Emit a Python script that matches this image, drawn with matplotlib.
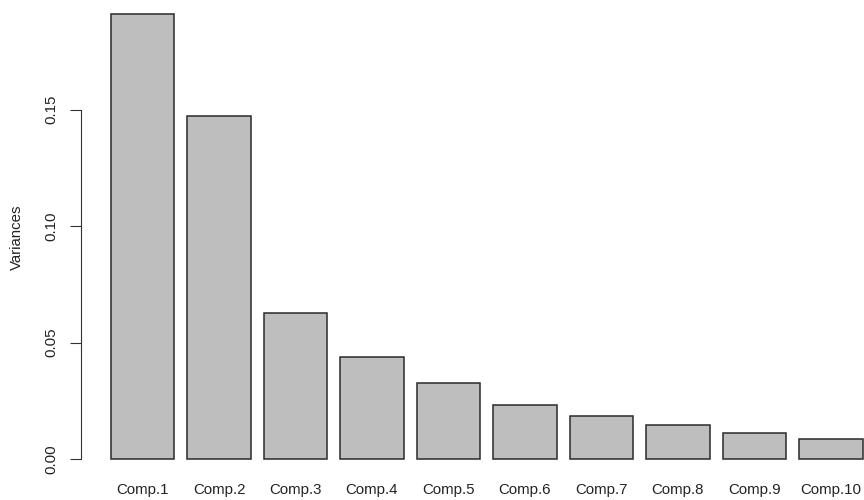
import numpy as np
import matplotlib
matplotlib.use("Agg")
import matplotlib.pyplot as plt

plt.rcParams['font.family'] = ['Liberation Sans', 'DejaVu Sans']

components = ["Comp.%d" % i for i in range(1, 11)]
variances = [0.1910, 0.1473, 0.0629, 0.0439, 0.0328, 0.0233, 0.0186, 0.0146, 0.0113, 0.0088]
yticks = [0.00, 0.05, 0.10, 0.15]

W, H = 864, 500
fig = plt.figure(figsize=(W / 100, H / 100), dpi=100)
# plot region in pixels, R-style barplot (width 1, space 0.2)
left_px, right_px, top_px, bot_px = 80.6, 864, 0, 477
ax = fig.add_axes([left_px / W, 1 - bot_px / H, (right_px - left_px) / W, (bot_px - top_px) / H])

x = 0.2 + np.arange(len(variances)) * 1.2
ax.bar(x, variances, width=1.0, align='edge', color='#bebebe', edgecolor='#2a2a2a', linewidth=1.1)

ax.set_xlim(-0.272, 12.02)
ax.set_ylim(-0.00764, 0.197)

for s in ['top', 'right', 'bottom']:
    ax.spines[s].set_visible(False)
ax.spines['left'].set_bounds(0, 0.15)
ax.spines['left'].set_color('#333333')
ax.set_yticks(yticks)
ax.set_yticklabels(["%.2f" % v for v in yticks], rotation=90, va='center', fontsize=10.8, color='#222222')
ax.tick_params(axis='y', length=8, color='#333333', pad=8)

ax.set_xticks(x + 0.5)
ax.set_xticklabels(components, fontsize=10.8, color='#222222')
ax.tick_params(axis='x', length=0, pad=4.2)

fig.text(17 / W, 1 - 237 / H, "Variances", rotation=90, ha='center', va='center', fontsize=10.8, color='#222222')

fig.savefig("out.png", dpi=100)
